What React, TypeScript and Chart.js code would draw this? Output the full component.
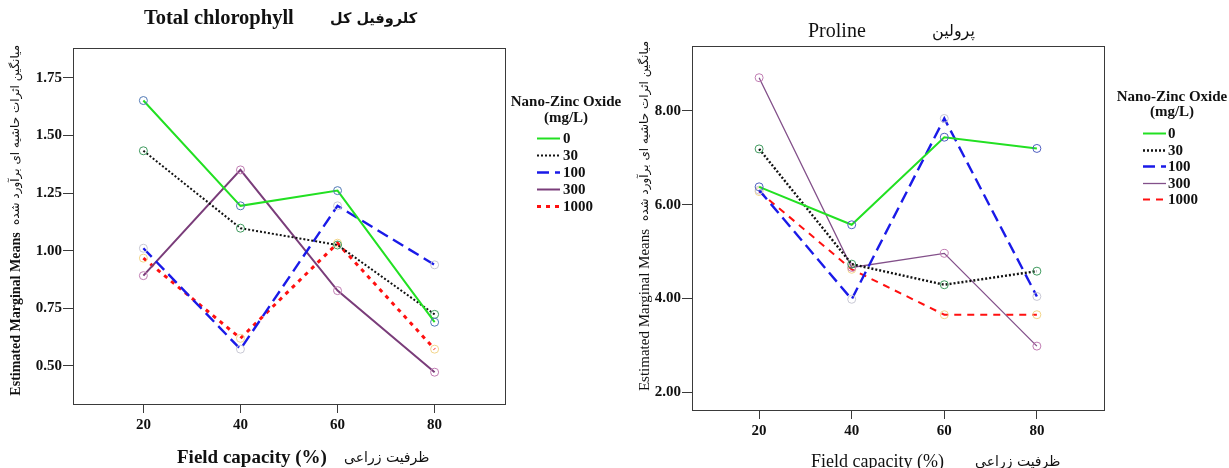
import { useEffect, useRef } from "react";
import { Chart, registerables } from "chart.js";

Chart.register(...registerables);

// ---------- data ----------
const fieldCapacity = [20, 40, 60, 80];
const doseLabels = ["0", "30", "100", "300", "1000"];

const chlorophyll0 = [1.652, 1.195, 1.261, 0.69];
const chlorophyll30 = [1.434, 1.098, 1.025, 0.724];
const chlorophyll100 = [1.011, 0.573, 1.195, 0.939];
const chlorophyll300 = [0.892, 1.351, 0.827, 0.473];
const chlorophyll1000 = [0.968, 0.62, 1.033, 0.573];

const proline0 = [6.38, 5.57, 7.44, 7.2];
const proline30 = [7.19, 4.73, 4.29, 4.58];
const proline100 = [6.31, 3.98, 7.84, 4.04];
const proline300 = [8.71, 4.66, 4.96, 2.98];
const proline1000 = [6.28, 4.62, 3.65, 3.65];

const xTickValues = [20, 40, 60, 80];
const chlorophyllTicks = [0.5, 0.75, 1.0, 1.25, 1.5, 1.75];
const prolineTicks = [2, 4, 6, 8];

// ---------- styling ----------
const SERIF = '"Liberation Serif", "Times New Roman", serif';
const FA = '"DejaVu Sans", "Noto Sans", sans-serif';
const W = 1229;
const H = 468;

type LineStyle = {
  color: string;
  dash: number[];
  width: number;
  point: string;
};

const leftStyles: LineStyle[] = [
  { color: "#22e022", dash: [], width: 2, point: "#4f78b5" },
  { color: "#111111", dash: [2, 2], width: 2, point: "#3f9a5e" },
  { color: "#1a1ae8", dash: [12, 6], width: 2.4, point: "#c8c8d4" },
  { color: "#7a3d7a", dash: [], width: 2, point: "#c07cb2" },
  { color: "#ff1010", dash: [4, 5], width: 3, point: "#f2d58a" },
];

const rightStyles: LineStyle[] = [
  { color: "#22e022", dash: [], width: 2, point: "#4f5fc0" },
  { color: "#111111", dash: [2, 2], width: 2.4, point: "#3f9a5e" },
  { color: "#1a1ae8", dash: [12, 6], width: 2.4, point: "#c8c8d4" },
  { color: "#83508a", dash: [], width: 1.3, point: "#c07cb2" },
  { color: "#ff1010", dash: [7, 6], width: 2, point: "#f2d58a" },
];

type Spec = {
  id: string;
  pad: { left: number; right: number; top: number; bottom: number };
  yWidth: number;
  xHeight: number;
  xMin: number;
  xMax: number;
  yMin: number;
  yMax: number;
  yTicks: number[];
  series: number[][];
  styles: LineStyle[];
  bold: boolean;
  title: { en: string; fa: string; enX: number; faX: number; y: number; size: number; faSize: number };
  xTitle: { en: string; fa: string; enX: number; faX: number; y: number; size: number; faSize: number };
  yTitle: { x: number; enY: number; faY: number; size: number; faSize: number };
  legend: { cx: number; titleY: number; subY: number; lineX0: number; lineX1: number; labelX: number; rows: number[]; size: number };
};

function makeDecor(spec: Spec) {
  return {
    id: "decor" + spec.id,
    afterDraw(chart: any) {
      const ctx: CanvasRenderingContext2D = chart.ctx;
      const w = spec.bold ? "bold " : "";
      const ca = chart.chartArea;
      ctx.save();
      // box
      ctx.strokeStyle = "#3a3a3a";
      ctx.lineWidth = 1;
      ctx.setLineDash([]);
      ctx.strokeRect(Math.round(ca.left) + 0.5, Math.round(ca.top) + 0.5, Math.round(ca.right - ca.left), Math.round(ca.bottom - ca.top));

      ctx.fillStyle = "#111";
      ctx.textBaseline = "middle";
      // title
      ctx.textAlign = "left";
      ctx.font = `${w}${spec.title.size}px ${SERIF}`;
      ctx.fillText(spec.title.en, spec.title.enX, spec.title.y);
      ctx.font = `${w}${spec.title.faSize}px ${FA}`;
      ctx.fillText(spec.title.fa, spec.title.faX, spec.title.y);
      // x title
      ctx.font = `${w}${spec.xTitle.size}px ${SERIF}`;
      ctx.fillText(spec.xTitle.en, spec.xTitle.enX, spec.xTitle.y);
      ctx.font = `${spec.xTitle.faSize}px ${FA}`;
      ctx.fillText(spec.xTitle.fa, spec.xTitle.faX, spec.xTitle.y);
      // y title (rotated)
      ctx.save();
      ctx.translate(spec.yTitle.x, 0);
      ctx.rotate(-Math.PI / 2);
      ctx.textAlign = "center";
      ctx.font = `${w}${spec.yTitle.size}px ${SERIF}`;
      ctx.fillText("Estimated Marginal Means", -spec.yTitle.enY, 0);
      ctx.font = `${spec.yTitle.faSize}px ${FA}`;
      ctx.fillText("میانگین اثرات حاشیه ای برآورد شده", -spec.yTitle.faY, 0);
      ctx.restore();
      // legend
      const lg = spec.legend;
      ctx.textAlign = "center";
      ctx.font = `bold ${lg.size}px ${SERIF}`;
      ctx.fillText("Nano-Zinc Oxide", lg.cx, lg.titleY);
      ctx.fillText("(mg/L)", lg.cx, lg.subY);
      ctx.textAlign = "left";
      spec.styles.forEach((st, i) => {
        const y = lg.rows[i];
        ctx.strokeStyle = st.color;
        ctx.lineWidth = st.width;
        ctx.setLineDash(st.dash);
        ctx.beginPath();
        ctx.moveTo(lg.lineX0, y + 0.5);
        ctx.lineTo(lg.lineX1, y + 0.5);
        ctx.stroke();
        ctx.setLineDash([]);
        ctx.fillStyle = "#111";
        ctx.fillText(doseLabels[i], lg.labelX, y + 1);
      });
      ctx.restore();
    },
  };
}

function makeConfig(spec: Spec): any {
  const tickFont = { family: SERIF, size: 15, weight: "bold" as const };
  return {
    type: "line",
    data: {
      datasets: spec.series.map((vals, i) => {
        const st = spec.styles[i];
        return {
          label: doseLabels[i],
          data: fieldCapacity.map((x, j) => ({ x, y: vals[j] })),
          borderColor: st.color,
          borderWidth: st.width,
          borderDash: st.dash,
          pointRadius: 4,
          pointBorderWidth: 1,
          pointBorderColor: st.point,
          pointBackgroundColor: "rgba(0,0,0,0)",
          tension: 0,
          fill: false,
        };
      }),
    },
    options: {
      animation: false,
      responsive: false,
      maintainAspectRatio: false,
      layout: { padding: spec.pad },
      plugins: { legend: { display: false }, tooltip: { enabled: false }, title: { display: false } },
      scales: {
        x: {
          type: "linear",
          min: spec.xMin,
          max: spec.xMax,
          afterBuildTicks: (s: any) => {
            s.ticks = xTickValues.map((v) => ({ value: v }));
          },
          afterFit: (s: any) => {
            s.height = spec.xHeight;
          },
          grid: { drawOnChartArea: false, drawTicks: true, tickLength: 9, color: "#3a3a3a", lineWidth: 1 },
          border: { display: false },
          ticks: { font: tickFont, color: "#111", padding: 3, maxRotation: 0, callback: (v: any) => String(v) },
        },
        y: {
          type: "linear",
          min: spec.yMin,
          max: spec.yMax,
          afterBuildTicks: (s: any) => {
            s.ticks = spec.yTicks.map((v) => ({ value: v }));
          },
          afterFit: (s: any) => {
            s.width = spec.yWidth;
          },
          grid: { drawOnChartArea: false, drawTicks: true, tickLength: 10, color: "#3a3a3a", lineWidth: 1 },
          border: { display: false },
          ticks: { font: tickFont, color: "#111", padding: 1, callback: (v: any) => Number(v).toFixed(2) },
        },
      },
    },
    plugins: [makeDecor(spec)],
  };
}

const leftSpec: Spec = {
  id: "L",
  pad: { left: 28, right: W - 505, top: 48, bottom: H - 404 - 30 },
  yWidth: 45,
  xHeight: 30,
  xMin: 5.5,
  xMax: 94.5,
  yMin: 0.335,
  yMax: 1.88,
  yTicks: chlorophyllTicks,
  series: [chlorophyll0, chlorophyll30, chlorophyll100, chlorophyll300, chlorophyll1000],
  styles: leftStyles,
  bold: true,
  title: { en: "Total chlorophyll", fa: "کلروفیل کل", enX: 144, faX: 330, y: 19, size: 20.5, faSize: 14.5 },
  xTitle: { en: "Field capacity (%)", fa: "ظرفیت زراعی", enX: 177, faX: 344, y: 458, size: 19, faSize: 14 },
  yTitle: { x: 16, enY: 314, faY: 135, size: 14, faSize: 12 },
  legend: { cx: 566, titleY: 102, subY: 118, lineX0: 537, lineX1: 560, labelX: 563, rows: [138, 155, 172, 189, 206], size: 15 },
};

const rightSpec: Spec = {
  id: "R",
  pad: { left: 692 - 45, right: W - 1104, top: 46, bottom: H - 410 - 30 },
  yWidth: 45,
  xHeight: 30,
  xMin: 5.5,
  xMax: 94.5,
  yMin: 1.616,
  yMax: 9.387,
  yTicks: prolineTicks,
  series: [proline0, proline30, proline100, proline300, proline1000],
  styles: rightStyles,
  bold: false,
  title: { en: "Proline", fa: "پرولین", enX: 808, faX: 932, y: 32, size: 20, faSize: 16 },
  xTitle: { en: "Field capacity (%)", fa: "ظرفیت زراعی", enX: 811, faX: 975, y: 462, size: 18, faSize: 14 },
  yTitle: { x: 645, enY: 310, faY: 131, size: 15, faSize: 12 },
  legend: { cx: 1172, titleY: 97, subY: 112, lineX0: 1143, lineX1: 1166, labelX: 1168, rows: [133, 150, 166, 183, 199], size: 15 },
};

export default function App() {
  const leftRef = useRef<HTMLCanvasElement>(null);
  const rightRef = useRef<HTMLCanvasElement>(null);

  useEffect(() => {
    const c1 = new Chart(leftRef.current as HTMLCanvasElement, makeConfig(leftSpec));
    const c2 = new Chart(rightRef.current as HTMLCanvasElement, makeConfig(rightSpec));
    return () => {
      c1.destroy();
      c2.destroy();
    };
  }, []);

  return (
    <div style={{ position: "absolute", left: 0, top: 0, width: W, height: H, background: "#fff", overflow: "hidden" }}>
      <canvas ref={leftRef} width={W} height={H} style={{ position: "absolute", left: 0, top: 0, width: W, height: H }} />
      <canvas ref={rightRef} width={W} height={H} style={{ position: "absolute", left: 0, top: 0, width: W, height: H }} />
    </div>
  );
}
